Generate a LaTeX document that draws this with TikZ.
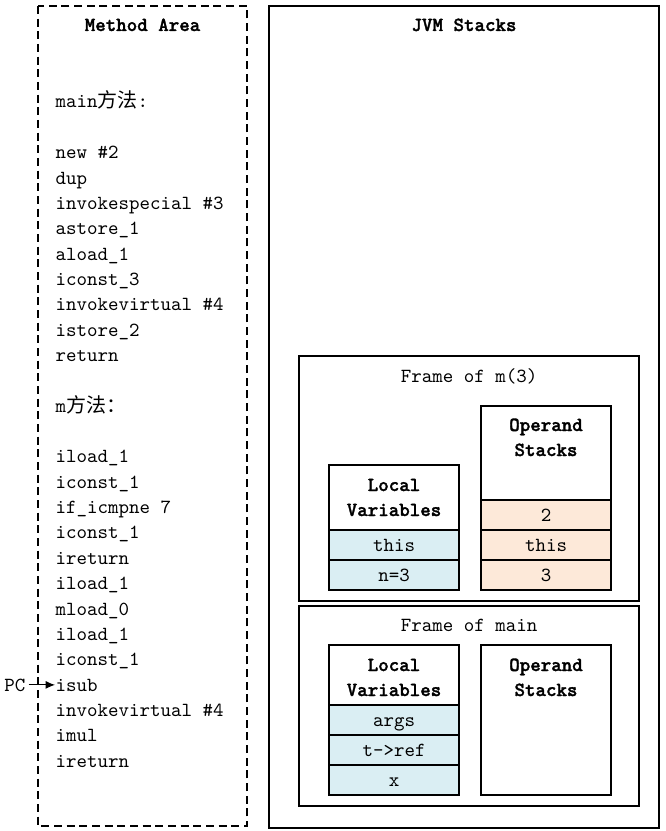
\documentclass[tikz,border=0pt]{standalone}
\usepackage{fontspec}
\setmonofont{lmmono10-regular}[Extension=.otf, BoldFont=lmmonolt10-bold, BoldFeatures={FakeBold=1.5}]
\newfontfamily\cjk{Noto Sans CJK SC}
\usetikzlibrary{arrows.meta}
\definecolor{lvblue}{RGB}{218,238,243}
\definecolor{osorange}{RGB}{253,233,217}

\begin{document}
\begin{tikzpicture}[x = 0.75pt, y = -0.75pt, line width = 0.8pt,
		every node/.style = {font = \ttfamily\fontsize{15}{18}\selectfont, inner sep = 0pt},
		txt/.style = {anchor = base},
		bold/.style = {anchor = base, font = \ttfamily\bfseries\fontsize{15}{18}\selectfont},
		lv/.style = {draw, fill = lvblue},
		os/.style = {draw, fill = osorange}]
		\useasboundingbox (0, 0) rectangle (666, 831);
		%%%%%%%%%%%%% method area
		\draw [dash pattern = on 6pt off 3.5pt] (38, 6) rectangle (247, 826);
		\node [bold] (ma) at (142.5, 31) {Method Area};
		\foreach \i/\code in {0/main{\cjk 方法}:, 2/new \#2, 3/dup, 4/invokespecial \#3,
				5/astore\_1, 6/aload\_1, 7/iconst\_3, 8/invokevirtual \#4, 9/istore\_2,
				10/return, 12/m{\cjk 方法：}, 14/iload\_1, 15/iconst\_1, 16/if\_icmpne 7,
				17/iconst\_1, 18/ireturn, 19/iload\_1, 20/mload\_0, 21/iload\_1,
				22/iconst\_1, 23/isub, 24/invokevirtual \#4, 25/imul, 26/ireturn}
			\node [anchor = base west] (l\i) at (55, 108 + 25.35*\i) {\code};
		\node [anchor = base east] (pc) at (26, 691) {PC};
		\draw [-{Latex[length = 7pt, width = 6pt]}, shorten <= 2pt] (pc.east) -- (pc.east -| l23.west);
		%%%%%%%%%%%%% jvm stacks
		\draw (269, 6) rectangle (659, 828);
		\node [bold] (jvm) at (464, 31) {JVM Stacks};
		%%%%%%%%%%%%% frame of m(3)
		\draw (299, 356) rectangle (639, 601);
		\node [txt] (fm) at (469, 382) {Frame of m(3)};
		\draw (329, 465) rectangle (459, 530);
		\node [bold] (lvm1) at (394, 491) {Local};
		\node [bold] (lvm2) at (394, 516) {Variables};
		\draw [lv] (329, 530) rectangle (459, 560); \node [txt] (vm1) at (394, 551) {this};
		\draw [lv] (329, 560) rectangle (459, 590); \node [txt] (vm2) at (394, 581) {n=3};
		\draw (481, 406) rectangle (611, 500);
		\node [bold] (osm1) at (546, 431) {Operand};
		\node [bold] (osm2) at (546, 456) {Stacks};
		\draw [os] (481, 500) rectangle (611, 530); \node [txt] (sm1) at (546, 521) {2};
		\draw [os] (481, 530) rectangle (611, 560); \node [txt] (sm2) at (546, 551) {this};
		\draw [os] (481, 560) rectangle (611, 590); \node [txt] (sm3) at (546, 581) {3};
		%%%%%%%%%%%%% frame of main
		\draw (299, 606) rectangle (639, 806);
		\node [txt] (fmain) at (469, 631) {Frame of main};
		\draw (329, 645) rectangle (459, 705);
		\node [bold] (lvx1) at (394, 671) {Local};
		\node [bold] (lvx2) at (394, 696) {Variables};
		\draw [lv] (329, 705) rectangle (459, 735); \node [txt] (vx1) at (394, 726) {args};
		\draw [lv] (329, 735) rectangle (459, 765); \node [txt] (vx2) at (394, 756) {t->ref};
		\draw [lv] (329, 765) rectangle (459, 795); \node [txt] (vx3) at (394, 786) {x};
		\draw (481, 645) rectangle (611, 795);
		\node [bold] (osx1) at (546, 671) {Operand};
		\node [bold] (osx2) at (546, 696) {Stacks};
\end{tikzpicture}
\end{document}
